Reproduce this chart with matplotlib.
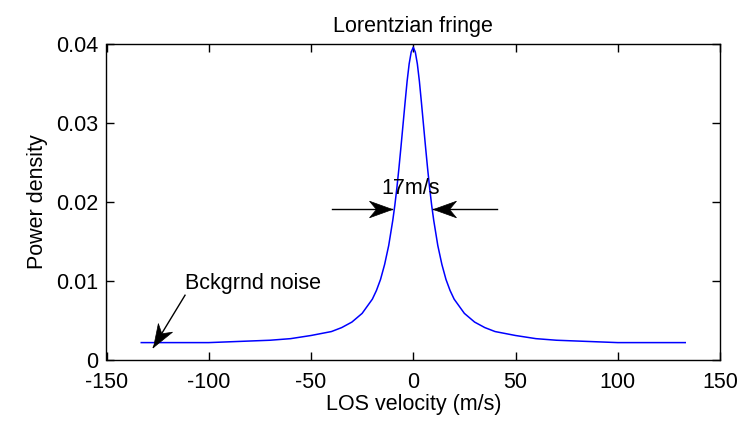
import math
import matplotlib
matplotlib.use("Agg")
import matplotlib.pyplot as plt
from matplotlib.path import Path
from matplotlib.markers import MarkerStyle
from matplotlib.transforms import Affine2D

# LOS velocity (m/s) and power density
velocity = [-133, -115, -100, -90, -80, -70, -60, -50, -40, -35, -30, -25, -20, -18, -16, -14,
            -12, -10, -9, -8, -7, -6, -5, -4, -3, -2, -1, 0,
            1, 2, 3, 4, 5, 6, 7, 8, 9, 10, 12, 14, 16, 18, 20, 25, 30, 35, 40, 50, 60, 70,
            80, 90, 100, 115, 133]
power = [0.0022, 0.0022, 0.0022, 0.0023, 0.0024, 0.0025, 0.0027, 0.0031, 0.0036, 0.0041, 0.0048,
         0.0059, 0.0077, 0.0088, 0.0102, 0.0121, 0.0145, 0.0177, 0.0196, 0.0218, 0.0243, 0.0270,
         0.0298, 0.0326, 0.0353, 0.0375, 0.0390, 0.0396,
         0.0390, 0.0375, 0.0353, 0.0326, 0.0298, 0.0270, 0.0243, 0.0218, 0.0196, 0.0177, 0.0145,
         0.0121, 0.0102, 0.0088, 0.0077, 0.0059, 0.0048, 0.0041, 0.0036, 0.0031, 0.0027, 0.0025,
         0.0024, 0.0023, 0.0022, 0.0022, 0.0022]

x_ticks = [-150, -100, -50, 0, 50, 100, 150]
y_ticks = [0, 0.01, 0.02, 0.03, 0.04]
y_tick_labels = ["0", "0.01", "0.02", "0.03", "0.04"]

# annotation arrows: (start, tip) in data coordinates
arrow_left = ((-39.6, 0.0191), (-10.6, 0.0191))
arrow_right = ((40.8, 0.0191), (9.8, 0.0191))
arrow_noise = ((-111.6, 0.0082), (-127.1, 0.0016))

plt.rcParams['font.family'] = ['Liberation Sans', 'DejaVu Sans']
FS = 15.5

fig = plt.figure(figsize=(7.5, 4.24), dpi=100)
ax = fig.add_axes([0.142, 0.151, 0.818, 0.745])

ax.plot(velocity, power, color=(0, 0, 1), lw=1.1)

ax.set_xlim(-150, 150)
ax.set_ylim(0, 0.04)
ax.set_xticks(x_ticks)
ax.set_xticklabels([str(t) for t in x_ticks])
ax.set_yticks(y_ticks)
ax.set_yticklabels(y_tick_labels)
ax.tick_params(direction='in', length=5.5, width=1.0, top=True, right=True,
               labelsize=FS, colors='black')
ax.tick_params(axis='x', pad=8.5)
ax.tick_params(axis='y', pad=6)
for s in ax.spines.values():
    s.set_linewidth(1.0)

ax.set_title("Lorentzian fringe", fontsize=FS, pad=9)
ax.set_xlabel("LOS velocity (m/s)", fontsize=FS, labelpad=1)
ax.set_ylabel("Power density", fontsize=FS, labelpad=6)

# notched (MATLAB vback2-like) arrow head, tip at origin pointing +x
head_path = Path([(0, 0), (-1, 0.36), (-0.7, 0), (-1, -0.36), (0, 0)],
                 [Path.MOVETO, Path.LINETO, Path.LINETO, Path.LINETO, Path.CLOSEPOLY])


def draw_arrow(start, tip):
    ax.plot([start[0], tip[0]], [start[1], tip[1]], color='black', lw=1.0)
    p0 = ax.transData.transform(start)
    p1 = ax.transData.transform(tip)
    ang = math.degrees(math.atan2(p1[1] - p0[1], p1[0] - p0[0]))
    m = MarkerStyle(head_path, transform=Affine2D().rotate_deg(ang))
    ax.plot([tip[0]], [tip[1]], marker=m, markersize=33, color='black',
            markeredgewidth=0.5, linestyle='none')


for st, tp in (arrow_left, arrow_right, arrow_noise):
    draw_arrow(st, tp)

ax.text(-1.2, 0.0217, "17m/s", fontsize=FS, ha='center', va='center')
ax.text(-111.6, 0.0090, "Bckgrnd noise", fontsize=FS, ha='left', va='baseline')

fig.savefig("out.png", dpi=100, facecolor='white')
